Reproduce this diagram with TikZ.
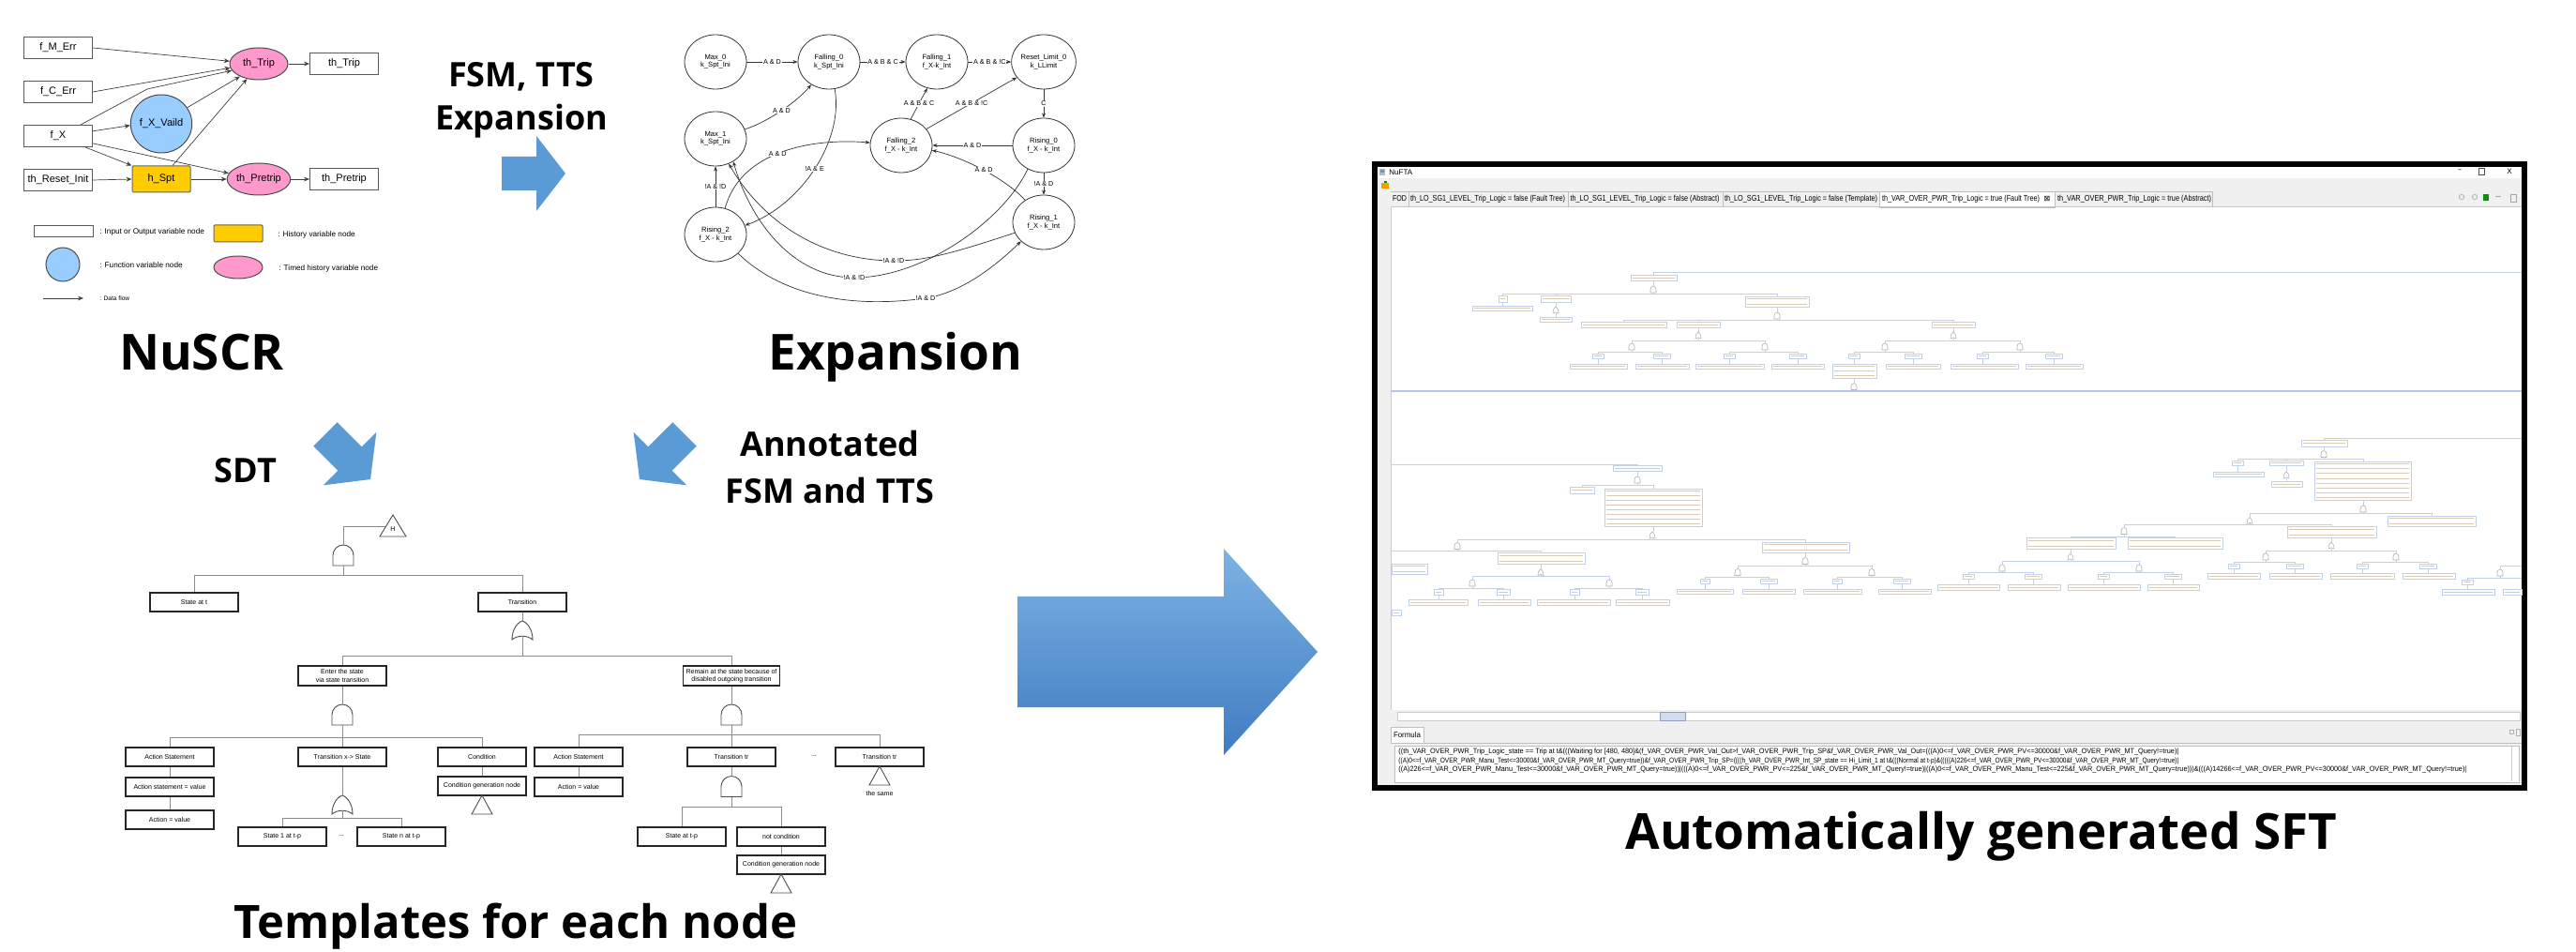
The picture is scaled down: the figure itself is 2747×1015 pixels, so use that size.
\documentclass[tikz,border=0pt]{standalone}
\usepackage{fontspec}
\setmainfont{Liberation Sans}
\newfontfamily\titlef{Open Sans}
\newfontfamily\dejavu{DejaVu Sans}
\usetikzlibrary{shapes.geometric,arrows.meta,calc}
\definecolor{fblue}{HTML}{99CCFF}
\definecolor{tpink}{HTML}{FF99CC}
\definecolor{hyel}{HTML}{FFCC00}
\definecolor{arrblue}{HTML}{5B9BD5}
\definecolor{arrlight}{HTML}{7DB2E3}
\definecolor{arrdark}{HTML}{3F7CC2}
\definecolor{ftline}{HTML}{C3D1E6}
\definecolor{fttext}{HTML}{D9CAB4}
\definecolor{winbg}{HTML}{F0F0F0}
\definecolor{sepblue}{HTML}{B4C7E7}
\newdimen\pxu \pxu=0.5pt
\newcommand\fsz[1]{\fontsize{#1}{#1}\selectfont}
\newcommand\blockarr[8]{\path[#8, shift={(#1,#2)}, rotate=#3] (0,0) -- (-#5,-#6) -- (-#5,-#7) -- (-#4,-#7) -- (-#4,#7) -- (-#5,#7) -- (-#5,#6) -- cycle;}
\newcommand\tandgate[3]{%
 \coordinate (#1-t) at (#2,#3-11);
 \coordinate (#1-b) at (#2,#3+11);
 \draw[tgate] (#2-11,#3+11) -- (#2-11,#3) .. controls (#2-11,#3-6) and (#2-6,#3-11) .. (#2,#3-11) .. controls (#2+6,#3-11) and (#2+11,#3-6) .. (#2+11,#3) -- (#2+11,#3+11) -- cycle;}
\newcommand\torgate[3]{%
 \coordinate (#1-t) at (#2,#3-10);
 \coordinate (#1-b) at (#2,#3+6.25);
 \draw[tgate] (#2-11,#3+10) .. controls (#2-11,#3) and (#2-6,#3-8) .. (#2,#3-10) .. controls (#2+6,#3-8) and (#2+11,#3) .. (#2+11,#3+10) .. controls (#2+5,#3+5) and (#2-5,#3+5) .. cycle;}
\newcommand\ttri[3]{%
 \coordinate (#1) at (#2,#3);
 \draw[tgate] (#2,#3) -- (#2-11,#3+20) -- (#2+11,#3+20) -- cycle;}
\newcommand\ftb[5]{%
 \draw[ftbox] (#1,#2) rectangle (#3,#4);
 \foreach \k in {1,...,#5}{%
   \draw[fttxt] ({#1+2},{#2+(#4-#2)*(\k-0.5)/#5}) -- ({#3-2},{#2+(#4-#2)*(\k-0.5)/#5});}}
\newcommand\ftand[2]{\draw[ftgate] (#1-3,#2+3.5) -- (#1-3,#2) .. controls (#1-3,#2-2) and (#1-1.7,#2-3.5) .. (#1,#2-3.5) .. controls (#1+1.7,#2-3.5) and (#1+3,#2-2) .. (#1+3,#2) -- (#1+3,#2+3.5) -- cycle;}
\newcommand\ftor[2]{\draw[ftgate] (#1-3,#2+3.5) .. controls (#1-3,#2) and (#1-1.7,#2-2.8) .. (#1,#2-3.5) .. controls (#1+1.7,#2-2.8) and (#1+3,#2) .. (#1+3,#2+3.5) .. controls (#1+1.5,#2+2) and (#1-1.5,#2+2) .. cycle;}
\begin{document}
\begin{tikzpicture}[x=0.5pt,y=-0.5pt,
 nbox/.style={draw=black!65, line width=0.5pt, fill=white, minimum width=36.5pt, minimum height=11.5pt, inner sep=0pt, font=\fsz{5.5}},
 fnode/.style={ellipse, draw=black!70, line width=0.5pt, fill=fblue, minimum width=29pt, minimum height=31pt, inner sep=0pt, font=\fsz{5.5}},
 hnode/.style={rectangle, draw=black!60, rounded corners=0.6pt, line width=0.5pt, fill=hyel, minimum width=31pt, minimum height=14pt, inner sep=0pt, font=\fsz{5.5}},
 tnode/.style={ellipse, draw=black!70, line width=0.5pt, fill=tpink, minimum width=31pt, minimum height=17pt, inner sep=0pt, font=\fsz{5.5}},
 flow/.style={draw=black!75, line width=0.35pt, -{Stealth[length=3pt,width=2.4pt]}},
 lgt/.style={anchor=west, inner sep=0pt, font=\fsz{4.1}},
 st/.style={ellipse, draw=black!80, line width=0.4pt, minimum width=33pt, minimum height=29pt, inner sep=0pt, align=center, font=\fontsize{3.8}{4.1}\selectfont},
 tr/.style={draw=black!80, line width=0.35pt, -{Stealth[length=2.6pt,width=2pt]}},
 lbl/.style={fill=white, inner sep=0.4pt, font=\fsz{3.6}},
 tbox/.style={draw=black!85, line width=0.6pt, fill=white, minimum width=47pt, minimum height=10pt, inner sep=0pt, font=\fontsize{3.5}{4.2}\selectfont, align=center},
 tl/.style={draw=black!45, line width=0.45pt},
 tgate/.style={draw=black!70, line width=0.45pt, fill=white},
 bigt/.style={font=\titlef\bfseries\fsz{26.5}, inner sep=0pt, anchor=base},
 midt/.style={font=\titlef\bfseries\fsz{18}, inner sep=0pt, anchor=base},
 ftbox/.style={draw=ftline, line width=0.35pt, fill=white},
 fttxt/.style={draw=fttext, line width=0.4pt},
 ftgate/.style={draw=gray!60, line width=0.3pt, fill=white},
 ftl/.style={draw=ftline, line width=0.45pt},
 tabt/.style={inner sep=0pt, font=\fsz{4}}
]
\useasboundingbox (0,0) rectangle (2747,1015);
\fill[white] (0,0) rectangle (2747,1015);

%================ NuSCR =================
\node[nbox] (fm) at (62,51) {f\_M\_Err};
\node[nbox] (fc) at (62,98) {f\_C\_Err};
\node[nbox] (fx) at (62,145) {f\_X};
\node[nbox] (tri) at (62,192) {th\_Reset\_Init};
\node[fnode] (fxv) at (172,132) {f\_X\_Vaild};
\node[hnode] (hspt) at (172,191) {h\_Spt};
\node[tnode] (thtrip) at (276,68) {th\_Trip};
\node[tnode] (thpre) at (276,191) {th\_Pretrip};
\node[nbox] (otrip) at (367,68) {th\_Trip};
\node[nbox] (opre) at (367,191) {th\_Pretrip};
\draw[flow] (fm.east) -- (thtrip.175);
\draw[flow] (fc.east) -- (thtrip.188);
\draw[flow] ($(fx.north)+(24,0)$) -- (157,95) -- (thtrip.194);
\draw[flow] (fx.8) -- (fxv.183);
\draw[flow] ([xshift=-4pt]fx.south east) -- (hspt.north west);
\draw[flow] (fx.-12) -- (thpre.169);
\draw[flow] (fxv.32) -- (thtrip.214);
\draw[flow] ([xshift=6pt]hspt.north) -- (thtrip.232);
\draw[flow] (tri.east) -- (hspt.west);
\draw[flow] (hspt.east) -- (thpre.west);
\draw[flow] (thtrip.east) -- (otrip.west);
\draw[flow] (thpre.east) -- (opre.west);
% legend
\node[nbox, minimum width=31.5pt, minimum height=6pt] (lg1) at (67.5,247) {};
\node[lgt] (lg1t) at (106,247) {: Input or Output variable node};
\node[hnode, minimum width=26pt, minimum height=9pt] (lg2) at (254,249) {};
\node[lgt] (lg2t) at (296,250) {: History variable node};
\node[fnode, minimum width=18pt, minimum height=18pt] (lg3) at (67,282) {};
\node[lgt] (lg3t) at (106,283) {: Function variable node};
\node[tnode, minimum width=26pt, minimum height=12pt] (lg4) at (254,285) {};
\node[lgt] (lg4t) at (297,286) {: Timed history variable node};
\coordinate (lg5a) at (46,318); \coordinate (lg5b) at (89,318);
\draw[flow] (lg5a) -- (lg5b);
\node[lgt, font=\fsz{3.3}] (lg5t) at (106,318) {: Data flow};

%================ FSM =================
\node[st] (M0) at (763,66) {Max\_0\\k\_Spt\_Ini};
\node[st] (F0) at (884,66) {Falling\_0\\k\_Spt\_Ini};
\node[st] (F1) at (999,66) {Falling\_1\\f\_X-k\_Int};
\node[st] (RL) at (1113,66) {Reset\_Limit\_0\\k\_LLimit};
\node[st] (M1) at (763,148) {Max\_1\\k\_Spt\_Ini};
\node[st] (F2) at (961,155) {Falling\_2\\f\_X - k\_Int};
\node[st] (Ri0) at (1113,155) {Rising\_0\\f\_X - k\_Int};
\node[st] (Ri1) at (1113,237) {Rising\_1\\f\_X - k\_Int};
\node[st] (Ri2) at (763,250) {Rising\_2\\f\_X - k\_Int};
\draw[tr] (M0.east) -- node[lbl] {A \& D} (F0.west);
\draw[tr] (F0.east) -- node[lbl] {A \& B \& C} (F1.west);
\draw[tr] (F1.east) -- node[lbl] {A \& B \& !C} (RL.west);
\draw[tr] (M1.18) .. controls +(25,-8) and +(-15,18) .. node[lbl, pos=0.5] {A \& D} (F0.232);
\draw[tr] (F2.70) -- node[lbl] {A \& B \& C} (F1.250);
\draw[tr] (F2.33) -- node[lbl] {A \& B \& !C} (RL.210);
\draw[tr] (RL.south) -- node[lbl] {C} (Ri0.north);
\draw[tr] (Ri0.west) -- node[lbl] {A \& D} (F2.east);
\draw[tr] (Ri1.130) .. controls +(-20,-22) and +(35,8) .. node[lbl, pos=0.5] {A \& D} (F2.-9);
\draw[tr] (Ri0.south) -- node[lbl] {!A \& D} (Ri1.north);
\draw[tr] (Ri2.north) -- node[lbl] {!A \& !D} (M1.south);
\draw[tr] (Ri2.70) .. controls +(17,-62) and +(-60,-5) .. node[lbl, pos=0.47] {A \& D} (F2.175);
\draw[tr] (F0.282) .. controls +(10,55) and +(60,-22) .. node[lbl, pos=0.5] {!A \& E} (Ri2.17);
\draw[tr] (Ri1.200) .. controls (1010,272) and (985,278) .. (953,278) node[lbl] {!A \& !D} .. controls (880,278) and (815,240) .. (M1.-62);
\draw[tr] (Ri0.236) .. controls (1070,235) and (985,296) .. (911,296) node[lbl] {!A \& !D} .. controls (845,296) and (800,235) .. (M1.-52);
\draw[tr] (Ri2.-40) .. controls (830,312) and (900,330) .. (987,318) node[lbl] {!A \& D} .. controls (1025,312) and (1060,285) .. (Ri1.220);

%================ Big labels and arrows =================
\node[midt] (l1) at (556,93) {FSM, TTS};
\node[midt] (l2) at (556,139) {Expansion};
\node[bigt] (lnu) at (215,395) {NuSCR};
\node[bigt] (lex) at (955,395) {Expansion};
\node[midt] (lsdt) at (262,515) {SDT};
\node[midt] (lan1) at (885,487) {Annotated};
\node[midt] (lan2) at (885,537) {FSM and TTS};
\node[bigt, font=\titlef\bfseries\fsz{24.5}] (ltp) at (550,1000) {Templates for each node};
\node[bigt] (lsft) at (2113,905) {Automatically generated SFT};
\blockarr{603}{185}{0}{68}{31}{40}{18}{fill=arrblue}
\blockarr{395}{511}{-45}{68}{31}{40}{18}{fill=arrblue}
\blockarr{682}{511}{-135}{68}{31}{40}{18}{fill=arrblue}
\blockarr{1405}{695}{0}{320}{100}{110}{59}{top color=arrlight, bottom color=arrdark}

%================ Templates =================
\draw[tgate] (419,549) -- (405,572) -- (433,572) -- cycle;
\node[inner sep=0pt, font=\fsz{3.5}] (hlab) at (419,564) {H};
\coordinate (hleft) at (411,561);
\tandgate{g0}{366}{592}
\coordinate (b0) at (366,613);
\node[tbox] (tst) at (207,642) {State at t};
\node[tbox] (ttr) at (557,642) {Transition};
\torgate{g1}{557}{672}
\coordinate (b1) at (557,699);
\node[tbox, minimum height=10.5pt] (tent) at (365,720.5) {Enter the state\\via state transition};
\node[tbox, minimum width=51.5pt, minimum height=10.5pt] (trem) at (780,720.5) {Remain at the state because of\\disabled outgoing transition};
\tandgate{g2}{365}{762}
\coordinate (b2) at (365,786);
\tandgate{g4}{780}{762}
\coordinate (b4) at (780,783);
\node[tbox] (tas1) at (181,807) {Action Statement};
\node[tbox] (ttxs) at (365,807) {Transition x-> State};
\node[tbox] (tcond) at (514,807) {Condition};
\node[tbox] (tas2) at (617,807) {Action Statement};
\node[tbox] (ttr1) at (780,807) {Transition tr};
\node[tbox] (ttr2) at (938,807) {Transition tr};
\node[inner sep=0pt, font=\fsz{3.5}] (dots1) at (868,806) {...};
\node[tbox] (tasv) at (181,839) {Action statement = value};
\node[tbox] (tav1) at (181,874) {Action = value};
\node[tbox] (tcgn1) at (514,838) {Condition generation node};
\node[tbox] (tav2) at (617,839) {Action = value};
\torgate{g3}{365}{858}
\coordinate (b3) at (365,872);
\node[tbox] (ts1) at (301,892) {State 1 at t-p};
\node[tbox] (tsn) at (428,892) {State n at t-p};
\node[inner sep=0pt, font=\fsz{3.5}] (dots2) at (364,891) {...};
\tandgate{g5}{780}{838.5}
\coordinate (b5) at (780,860);
\node[tbox] (tsat) at (727,892) {State at t-p};
\node[tbox] (tnc) at (833,892) {not condition};
\node[tbox] (tcgn2) at (833,922) {Condition generation node};
\ttri{tri1}{514}{848}
\ttri{tri2}{833}{932}
\ttri{tri3}{938}{817}
\node[inner sep=0pt, font=\fsz{3.5}] (same) at (938,846) {the same};
\draw[tl] (hleft) -| (g0-t);
\draw[tl] (g0-b) -- (b0);
\draw[tl] (b0) -| (tst.north);
\draw[tl] (b0) -| (ttr.north);
\draw[tl] (ttr.south) -- (g1-t);
\draw[tl] (g1-b) -- (b1);
\draw[tl] (b1) -| (tent.north);
\draw[tl] (b1) -| (trem.north);
\draw[tl] (tent.south) -- (g2-t);
\draw[tl] (g2-b) -- (b2);
\draw[tl] (b2) -| (tas1.north);
\draw[tl] (b2) -- (ttxs.north);
\draw[tl] (b2) -| (tcond.north);
\draw[tl] (tas1.south) -- (tasv.north);
\draw[tl] (tasv.south) -- (tav1.north);
\draw[tl] (ttxs.south) -- (g3-t);
\draw[tl] (g3-b) -- (b3);
\draw[tl] (b3) -| (ts1.north);
\draw[tl] (b3) -| (tsn.north);
\draw[tl] (tcond.south) -- (tcgn1.north);
\draw[tl] (trem.south) -- (g4-t);
\draw[tl] (g4-b) -- (b4);
\draw[tl] (b4) -| (tas2.north);
\draw[tl] (b4) -- (ttr1.north);
\draw[tl] (b4) -| (ttr2.north);
\draw[tl] (tas2.south) -- (tav2.north);
\draw[tl] (ttr1.south) -- (g5-t);
\draw[tl] (g5-b) -- (b5);
\draw[tl] (b5) -| (tsat.north);
\draw[tl] (b5) -| (tnc.north);
\draw[tl] (tnc.south) -- (tcgn2.north);

%================ Screenshot =================
\fill[black] (1463,172) rectangle (2695,843);
\fill[white] (1469,178) rectangle (2689,837);
\fill[gray!55] (1471,180) rectangle (1477,187);
\fill[arrblue] (1472,181) rectangle (1476,184);
\node[anchor=west, inner sep=0pt, font=\fsz{4}] (nufta) at (1481,183.5) {NuFTA};
\node[inner sep=0pt, font=\dejavu\fsz{4}] (wmin) at (2623,182) {–};
\draw[black!70, line width=0.4pt] (2643,179) rectangle (2649,186);
\node[inner sep=0pt, font=\fsz{4}] (wx) at (2676,182.5) {X};
\fill[winbg] (1469,190) rectangle (2689,220);
\fill[orange!80!yellow] (1473,195) rectangle (1481,201);
\fill[green!60!black] (1476,193) rectangle (1479,195);
\foreach \a/\b in {1482/1502,1502/1672,1672/1837,1837/2004,2191/2359}
  \draw[gray!50, line width=0.4pt, fill=winbg] (\a,204) rectangle (\b,220);
\draw[gray!50, line width=0.4pt, fill=white] (2004,204) rectangle (2191,221);
\node[tabt] (tab1) at (1492.5,212) {\resizebox{15\pxu}{3pt}{FOD}};
\node[tabt] (tab2) at (1586.5,212) {\resizebox{165\pxu}{3.2pt}{th\_LO\_SG1\_LEVEL\_Trip\_Logic = false (Fault Tree)}};
\node[tabt] (tab3) at (1754,212) {\resizebox{159\pxu}{3.2pt}{th\_LO\_SG1\_LEVEL\_Trip\_Logic = false (Abstract)}};
\node[tabt] (tab4) at (1920.5,212) {\resizebox{163\pxu}{3.2pt}{th\_LO\_SG1\_LEVEL\_Trip\_Logic = false (Template)}};
\node[tabt] (tab5) at (2091,212) {\resizebox{168\pxu}{3.2pt}{th\_VAR\_OVER\_PWR\_Trip\_Logic = true (Fault Tree)}};
\node[tabt, font=\dejavu\fsz{4}] (tab5x) at (2183,212) {⊠};
\node[tabt] (tab6) at (2276,212) {\resizebox{164\pxu}{3.2pt}{th\_VAR\_OVER\_PWR\_Trip\_Logic = true (Abstract)}};
\draw[gray!60, line width=0.4pt] (2625,210) circle (2.6);
\draw[gray!60, line width=0.4pt] (2639,210) circle (2.6);
\fill[green!60!black] (2648,207) rectangle (2654,214);
\draw[gray!70, line width=0.4pt] (2661,209) -- (2667,209);
\draw[gray!70, line width=0.4pt] (2677,207) rectangle (2683,215);
\draw[gray!45, line width=0.4pt] (1482,220) -- (2689,220);
\fill[winbg] (1469,204) rectangle (1483,770);
\draw[gray!40, line width=0.4pt] (1483,220) -- (1483,757);
\draw[sepblue, line width=0.8pt] (1483,417) -- (2689,417);
% upper tree
\draw[ftl] (1763,293) -- (1763,290) -- (2689,290);
\ftb{1739}{293}{1788}{299}{1}
\draw[ftl] (1763,299) -- (1763,305);
\ftand{1763}{308.5}
\draw[ftl] (1763,312) -- (1763,313);
\draw[ftl] (1602,315) -- (1602,313) -- (1895,313) -- (1895,316);
\draw[ftl] (1659,313) -- (1659,315);
\ftb{1598}{315}{1607}{322}{1}
\draw[ftl] (1602,322) -- (1602,326);
\ftb{1570}{326}{1634}{331}{1}
\ftb{1643}{315}{1675}{322}{1}
\draw[ftl] (1659,322) -- (1659,327);
\ftor{1659}{330.5}
\draw[ftl] (1659,334) -- (1659,338);
\ftb{1642}{338}{1676}{343}{1}
\ftb{1861}{316}{1929}{327}{2}
\draw[ftl] (1895,327) -- (1895,333);
\ftand{1895}{336.5}
\draw[ftl] (1895,340) -- (1895,341);
\draw[ftl] (1731,343) -- (1731,341) -- (2083,341) -- (2083,343);
\draw[ftl] (1811,341) -- (1811,343);
\ftb{1686}{343}{1777}{349}{1}
\ftb{1788}{343}{1834}{349}{1}
\ftb{2060}{343}{2106}{349}{1}
\draw[ftl] (1811,349) -- (1811,354);
\ftor{1811}{357.5}
\draw[ftl] (1811,361) -- (1811,363);
\draw[ftl] (1740,366) -- (1740,363) -- (1882,363) -- (1882,366);
\ftand{1740}{369.5} \ftand{1882}{369.5}
\draw[ftl] (1740,373) -- (1740,375);
\draw[ftl] (1704,377) -- (1704,375) -- (1772,375) -- (1772,377);
\draw[ftl] (1882,373) -- (1882,375);
\draw[ftl] (1844,377) -- (1844,375) -- (1917,375) -- (1917,377);
\ftb{1698}{377}{1710}{382}{1} \ftb{1763}{377}{1781}{382}{1}
\ftb{1838}{377}{1850}{382}{1} \ftb{1908}{377}{1926}{382}{1}
\draw[ftl] (1704,382) -- (1704,388);
\draw[ftl] (1772,382) -- (1772,388);
\draw[ftl] (1844,382) -- (1844,388);
\draw[ftl] (1917,382) -- (1917,388);
\ftb{1674}{388}{1735}{393}{1} \ftb{1744}{388}{1801}{393}{1}
\ftb{1808}{388}{1881}{393}{1} \ftb{1889}{388}{1945}{393}{1}
\draw[ftl] (2083,349) -- (2083,354);
\ftor{2083}{357.5}
\draw[ftl] (2083,361) -- (2083,363);
\draw[ftl] (2010,366) -- (2010,363) -- (2154,363) -- (2154,366);
\ftand{2010}{369.5} \ftand{2154}{369.5}
\draw[ftl] (2010,373) -- (2010,375);
\draw[ftl] (1977,377) -- (1977,375) -- (2040,375) -- (2040,377);
\draw[ftl] (2154,373) -- (2154,375);
\draw[ftl] (2114,377) -- (2114,375) -- (2190,375) -- (2190,377);
\ftb{1971}{377}{1983}{382}{1} \ftb{2031}{377}{2049}{382}{1}
\ftb{2108}{377}{2120}{382}{1} \ftb{2181}{377}{2199}{382}{1}
\draw[ftl] (1977,382) -- (1977,388);
\draw[ftl] (2040,382) -- (2040,388);
\draw[ftl] (2114,382) -- (2114,388);
\draw[ftl] (2190,382) -- (2190,388);
\ftb{1954}{388}{2001}{403}{3} \ftb{2011}{388}{2069}{393}{1}
\ftb{2080}{388}{2152}{393}{1} \ftb{2160}{388}{2221}{393}{1}
\draw[ftl] (1977,403) -- (1977,408.5);
\ftand{1977}{412}
\draw[ftl] (1977,415.5) -- (1977,417);
% lower tree, left part
\draw[ftl] (1483,495) -- (1746,495) -- (1746,496);
\ftb{1720}{496}{1772}{502}{1}
\draw[ftl] (1746,502) -- (1746,508);
\ftand{1746}{511.5}
\draw[ftl] (1746,515) -- (1746,517);
\draw[ftl] (1687,519) -- (1687,517) -- (1763,517) -- (1763,521);
\ftb{1674}{519}{1700}{526}{1}
\ftb{1711}{521}{1815}{561}{8}
\draw[ftl] (1763,561) -- (1763,567);
\ftor{1762}{570.5}
\draw[ftl] (1762,574) -- (1762,575);
\draw[ftl] (1554,579) -- (1554,575) -- (1925,575) -- (1925,578);
\ftand{1554}{582}
\draw[ftl] (1554,585.5) -- (1554,587);
\draw[ftl] (1483,587) -- (1643,587) -- (1643,589);
\ftb{1597}{589}{1690}{601}{2}
\ftb{1484}{601}{1522}{612}{2}
\ftb{1484}{650}{1494}{656}{1}
\draw[ftl] (1643,601) -- (1643,606.5);
\ftor{1643}{610}
\draw[ftl] (1643,613.5) -- (1643,614);
\draw[ftl] (1570,618) -- (1570,614) -- (1716,614) -- (1716,618);
\ftand{1570}{621.5} \ftand{1716}{621.5}
\draw[ftl] (1570,625) -- (1570,627);
\draw[ftl] (1534,628) -- (1534,627) -- (1603,627) -- (1603,628);
\draw[ftl] (1716,625) -- (1716,627);
\draw[ftl] (1679,628) -- (1679,627) -- (1751,627) -- (1751,628);
\ftb{1529}{628}{1539}{634}{1} \ftb{1596}{628}{1610}{634}{1}
\ftb{1674}{628}{1684}{634}{1} \ftb{1744}{628}{1758}{634}{1}
\draw[ftl] (1534,634) -- (1534,639);
\draw[ftl] (1603,634) -- (1603,639);
\draw[ftl] (1679,634) -- (1679,639);
\draw[ftl] (1751,634) -- (1751,639);
\ftb{1502}{639}{1565}{645}{1} \ftb{1576}{639}{1632}{645}{1}
\ftb{1639}{639}{1717}{645}{1} \ftb{1723}{639}{1780}{645}{1}
\ftb{1879}{578}{1972}{589}{2}
\draw[ftl] (1925,589) -- (1925,594.5);
\ftand{1925}{598}
\draw[ftl] (1925,601.5) -- (1925,603);
\draw[ftl] (1853,607) -- (1853,603) -- (1996,603) -- (1996,607);
\ftand{1853}{610} \ftand{1996}{610}
\draw[ftl] (1853,613.5) -- (1853,615);
\draw[ftl] (1818,617) -- (1818,615) -- (1886,615) -- (1886,617);
\draw[ftl] (1996,613.5) -- (1996,615);
\draw[ftl] (1959,617) -- (1959,615) -- (2028,615) -- (2028,617);
\ftb{1813}{617}{1823}{622}{1} \ftb{1877}{617}{1895}{622}{1}
\ftb{1954}{617}{1964}{622}{1} \ftb{2019}{617}{2037}{622}{1}
\draw[ftl] (1818,622) -- (1818,628);
\draw[ftl] (1886,622) -- (1886,628);
\draw[ftl] (1959,622) -- (1959,628);
\draw[ftl] (2028,622) -- (2028,628);
\ftb{1788}{628}{1848}{633}{1} \ftb{1858}{628}{1914}{633}{1}
\ftb{1923}{628}{1985}{633}{1} \ftb{2003}{628}{2059}{633}{1}
% lower tree, right part
\draw[ftl] (2478,469) -- (2478,467) -- (2689,467);
\ftb{2454}{469}{2503}{476}{1}
\draw[ftl] (2478,476) -- (2478,480.5);
\ftand{2478}{484}
\draw[ftl] (2478,487.5) -- (2478,489);
\draw[ftl] (2386,491) -- (2386,489) -- (2520,489) -- (2520,492);
\draw[ftl] (2438,489) -- (2438,491);
\ftb{2380}{491}{2392}{496}{1}
\draw[ftl] (2386,496) -- (2386,503);
\ftb{2360}{503}{2414}{508}{1}
\ftb{2420}{491}{2456}{496}{1}
\draw[ftl] (2438,496) -- (2438,503);
\ftor{2438}{506.5}
\draw[ftl] (2438,510) -- (2438,513);
\ftb{2422}{513}{2455}{519}{1}
\ftb{2468}{492}{2571}{533}{8}
\draw[ftl] (2520,533) -- (2520,539);
\ftand{2520}{542.5}
\draw[ftl] (2520,546) -- (2520,547);
\draw[ftl] (2399,551.5) -- (2399,547) -- (2593,547) -- (2593,550);
\ftb{2546}{550}{2640}{561}{2}
\ftor{2399}{555}
\draw[ftl] (2399,558.5) -- (2399,559);
\draw[ftl] (2265,562.5) -- (2265,559) -- (2486,559) -- (2486,561);
\ftand{2265}{566}
\draw[ftl] (2265,569.5) -- (2265,572);
\draw[ftl] (2208,573) -- (2208,572) -- (2319,572) -- (2319,573);
\ftb{2161}{573}{2256}{585}{2} \ftb{2269}{573}{2370}{585}{2}
\draw[ftl] (2208,585) -- (2208,590);
\ftor{2208}{593.5}
\draw[ftl] (2208,597) -- (2208,598);
\draw[ftl] (2135,602) -- (2135,598) -- (2281,598) -- (2281,602);
\ftand{2135}{605.5} \ftand{2281}{605.5}
\draw[ftl] (2135,609) -- (2135,610);
\draw[ftl] (2099,612) -- (2099,610) -- (2168,610) -- (2168,612);
\draw[ftl] (2281,609) -- (2281,610);
\draw[ftl] (2243,612) -- (2243,610) -- (2317,610) -- (2317,612);
\ftb{2093}{612}{2105}{617}{1} \ftb{2159}{612}{2177}{617}{1}
\ftb{2237}{612}{2249}{617}{1} \ftb{2308}{612}{2326}{617}{1}
\draw[ftl] (2099,617) -- (2099,623);
\draw[ftl] (2168,617) -- (2168,623);
\draw[ftl] (2243,617) -- (2243,623);
\draw[ftl] (2317,617) -- (2317,623);
\ftb{2066}{623}{2132}{629}{1} \ftb{2141}{623}{2197}{629}{1}
\ftb{2205}{623}{2282}{629}{1} \ftb{2290}{623}{2345}{629}{1}
\ftb{2439}{561}{2534}{573}{2}
\draw[ftl] (2486,573) -- (2486,578);
\ftor{2486}{581.5}
\draw[ftl] (2486,585) -- (2486,587);
\draw[ftl] (2416,590) -- (2416,587) -- (2555,587) -- (2555,590);
\ftand{2416}{593.5} \ftand{2555}{593.5}
\draw[ftl] (2416,597) -- (2416,599);
\draw[ftl] (2382,601) -- (2382,599) -- (2447,599) -- (2447,601);
\draw[ftl] (2555,597) -- (2555,599);
\draw[ftl] (2519,601) -- (2519,599) -- (2589,599) -- (2589,601);
\ftb{2376}{601}{2388}{606}{1} \ftb{2438}{601}{2456}{606}{1}
\ftb{2513}{601}{2525}{606}{1} \ftb{2580}{601}{2598}{606}{1}
\draw[ftl] (2382,606) -- (2382,611);
\draw[ftl] (2447,606) -- (2447,611);
\draw[ftl] (2519,606) -- (2519,611);
\draw[ftl] (2589,606) -- (2589,611);
\ftb{2354}{611}{2410}{617}{1} \ftb{2420}{611}{2476}{617}{1}
\ftb{2485}{611}{2553}{617}{1} \ftb{2562}{611}{2618}{617}{1}
\draw[ftl] (2666,607) -- (2666,603) -- (2689,603);
\ftand{2666}{610.5}
\draw[ftl] (2666,614) -- (2666,616);
\draw[ftl] (2631,618) -- (2631,616) -- (2689,616);
\ftb{2625}{618}{2637}{623}{1}
\draw[ftl] (2631,623) -- (2631,628);
\ftb{2604}{628}{2660}{634}{1}
\ftb{2669}{628}{2689}{634}{1}
% scrollbar
\fill[winbg] (1483,757) rectangle (2689,770);
\draw[gray!40, line width=0.4pt, fill=white] (1490,759) rectangle (2687,768);
\draw[sepblue!80!black, line width=0.4pt, fill=sepblue!60] (1770,759) rectangle (1797,768);
% formula panel
\fill[winbg] (1469,770) rectangle (2689,837);
\draw[gray!50, line width=0.4pt, fill=white] (1483,775) rectangle (1518,792);
\node[tabt] (formt) at (1500.5,783.5) {\resizebox{29\pxu}{3pt}{Formula}};
\draw[gray!50, line width=0.4pt] (1518,792) -- (2689,792);
\draw[gray!60, line width=0.4pt] (2676,778) rectangle (2680,782);
\draw[gray!60, line width=0.4pt] (2683,777) rectangle (2687,784);
\draw[gray!50, line width=0.4pt, fill=white] (1487,795) rectangle (2686,834);
\node[anchor=west, inner sep=0pt] (fl1) at (1491,802) {\resizebox{832\pxu}{2.8pt}{((th\_VAR\_OVER\_PWR\_Trip\_Logic\_state == Trip at t\&(((Waiting for [480, 480]\&(f\_VAR\_OVER\_PWR\_Val\_Out>f\_VAR\_OVER\_PWR\_Trip\_SP\&f\_VAR\_OVER\_PWR\_Val\_Out=(((A)0<=f\_VAR\_OVER\_PWR\_PV<=30000\&f\_VAR\_OVER\_PWR\_MT\_Query!=true)|}};
\node[anchor=west, inner sep=0pt] (fl2) at (1491,812) {\resizebox{832\pxu}{2.8pt}{((A)0<=f\_VAR\_OVER\_PWR\_Manu\_Test<=30000\&f\_VAR\_OVER\_PWR\_MT\_Query=true))\&f\_VAR\_OVER\_PWR\_Trip\_SP=((((h\_VAR\_OVER\_PWR\_Int\_SP\_state == Hi\_Limit\_1 at t\&(((Normal at t-p)\&(((((A)226<=f\_VAR\_OVER\_PWR\_PV<=30000\&f\_VAR\_OVER\_PWR\_MT\_Query!=true)|}};
\node[anchor=west, inner sep=0pt] (fl3) at (1491,821) {\resizebox{1139\pxu}{2.8pt}{((A)226<=f\_VAR\_OVER\_PWR\_Manu\_Test<=30000\&f\_VAR\_OVER\_PWR\_MT\_Query=true))|(((A)0<=f\_VAR\_OVER\_PWR\_PV<=225\&f\_VAR\_OVER\_PWR\_MT\_Query!=true)|((A)0<=f\_VAR\_OVER\_PWR\_Manu\_Test<=225\&f\_VAR\_OVER\_PWR\_MT\_Query=true)))\&(((A)14266<=f\_VAR\_OVER\_PWR\_PV<=30000\&f\_VAR\_OVER\_PWR\_MT\_Query!=true)|}};
\draw[gray!40, line width=0.4pt] (2678,796) -- (2678,833);
\end{tikzpicture}
\end{document}
